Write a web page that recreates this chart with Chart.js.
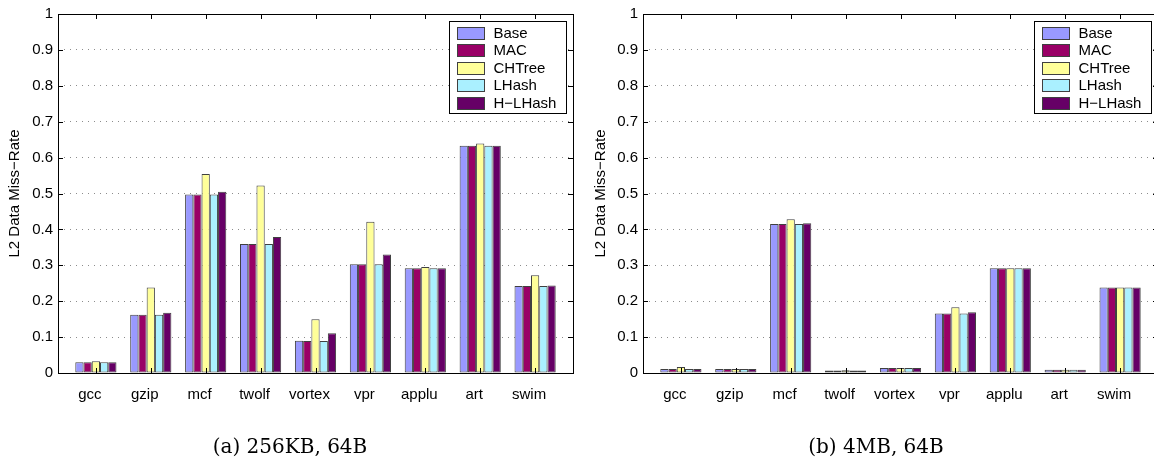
<!DOCTYPE html>
<html>
<head>
<meta charset="utf-8">
<script src="https://cdn.jsdelivr.net/npm/chart.js@4.4.0/dist/chart.umd.min.js"></script>
<style>
  html, body { margin: 0; padding: 0; background: #fff; overflow: hidden; }
  .panel { position: absolute; top: 0; height: 458px; }
  #panelA { left: 0; width: 580px; }
  #panelB { left: 580px; width: 592px; }
</style>
</head>
<body>
<div class="panel" id="panelA"><canvas id="chartA"></canvas></div>
<div class="panel" id="panelB"><canvas id="chartB"></canvas></div>
<script>
const benchmarks = ['gcc', 'gzip', 'mcf', 'twolf', 'vortex', 'vpr', 'applu', 'art', 'swim'];
const schemes = ['Base', 'MAC', 'CHTree', 'LHash', 'H\u2212LHash'];
const schemeColors = ['#9999ff', '#990066', '#ffff99', '#aaf0ff', '#660066'];
const yTicks = [0, 0.1, 0.2, 0.3, 0.4, 0.5, 0.6, 0.7, 0.8, 0.9, 1];

// (a) 256KB L2, 64B lines
const baseA   = [0.030, 0.162, 0.497, 0.359, 0.090, 0.303, 0.292, 0.633, 0.242];
const macA    = [0.030, 0.162, 0.497, 0.359, 0.089, 0.303, 0.292, 0.633, 0.242];
const chtreeA = [0.033, 0.238, 0.554, 0.522, 0.150, 0.421, 0.295, 0.639, 0.272];
const lhashA  = [0.030, 0.162, 0.497, 0.359, 0.089, 0.303, 0.292, 0.633, 0.242];
const hlhashA = [0.030, 0.168, 0.505, 0.379, 0.111, 0.330, 0.292, 0.633, 0.244];

// (b) 4MB L2, 64B lines
const baseB   = [0.011, 0.011, 0.415, 0.007, 0.014, 0.166, 0.292, 0.009, 0.238];
const macB    = [0.011, 0.011, 0.415, 0.007, 0.014, 0.166, 0.292, 0.009, 0.238];
const chtreeB = [0.017, 0.011, 0.428, 0.008, 0.014, 0.183, 0.292, 0.009, 0.238];
const lhashB  = [0.011, 0.011, 0.415, 0.007, 0.014, 0.166, 0.292, 0.009, 0.238];
const hlhashB = [0.011, 0.011, 0.417, 0.007, 0.014, 0.169, 0.292, 0.009, 0.238];

Chart.defaults.font.family = '"Liberation Sans", Arial, sans-serif';
Chart.defaults.font.size = 15;
Chart.defaults.color = '#000';

// box, inward ticks, legend and caption, matlab style
const matlabFrame = {
  id: 'matlabFrame',
  afterDraw(chart, args, opts) {
    const { ctx, chartArea: a } = chart;
    const xs = chart.scales.x, ys = chart.scales.y;
    ctx.save();
    ctx.strokeStyle = '#000';
    ctx.lineWidth = 1;
    ctx.strokeRect(Math.round(a.left) + 0.5, Math.round(a.top) + 0.5,
                   Math.round(a.right - a.left), Math.round(a.bottom - a.top));
    ctx.beginPath();
    yTicks.forEach(v => {
      const py = Math.round(ys.getPixelForValue(v)) + 0.5;
      ctx.moveTo(a.left, py); ctx.lineTo(a.left + 5, py);
      ctx.moveTo(a.right, py); ctx.lineTo(a.right - 5, py);
    });
    benchmarks.forEach((b, i) => {
      const px = Math.round(xs.getPixelForValue(i + 1)) + 0.5;
      ctx.moveTo(px, a.bottom); ctx.lineTo(px, a.bottom - 5);
      ctx.moveTo(px, a.top); ctx.lineTo(px, a.top + 5);
    });
    ctx.stroke();

    // legend
    const w = 117, h = 92;
    const lx = Math.round(a.right - 7 - w) + 0.5, ly = Math.round(a.top + 7) + 0.5;
    ctx.fillStyle = '#fff';
    ctx.fillRect(lx, ly, w, h);
    ctx.strokeRect(lx, ly, w, h);
    ctx.font = '15px "Liberation Sans", Arial, sans-serif';
    ctx.textBaseline = 'middle';
    ctx.textAlign = 'left';
    chart.data.datasets.forEach((ds, i) => {
      const sy = Math.round(ly + 5 + i * 17.6) + 0.5;
      ctx.fillStyle = ds.backgroundColor;
      ctx.fillRect(lx + 8, sy, 27, 12);
      ctx.strokeStyle = '#404040';
      ctx.strokeRect(lx + 8, sy, 27, 12);
      ctx.fillStyle = '#000';
      ctx.fillText(ds.label, lx + 44, sy + 6.5);
    });

    // caption
    ctx.font = '20px "DejaVu Serif", "Liberation Serif", serif';
    ctx.textAlign = 'center';
    ctx.fillText(opts.caption, chart.width / 2, 448);
    ctx.restore();
  }
};

function makeChart(id, series, caption, axisWidth, titlePad, rightPad) {
  const datasets = series.map((vals, s) => ({
    label: schemes[s],
    data: vals.map((v, i) => ({ x: i + 1, y: v })),
    backgroundColor: schemeColors[s],
    borderColor: '#404040',
    borderWidth: 1,
    borderSkipped: false,
    categoryPercentage: 0.75,
    barPercentage: 1.0
  }));
  return new Chart(document.getElementById(id), {
    type: 'bar',
    data: { datasets: datasets },
    plugins: [matlabFrame],
    options: {
      responsive: true,
      maintainAspectRatio: false,
      animation: false,
      layout: { padding: { left: 0, right: rightPad, top: 12, bottom: 0 } },
      plugins: {
        legend: { display: false },
        tooltip: { enabled: false },
        matlabFrame: { caption: caption }
      },
      scales: {
        x: {
          type: 'linear',
          offset: false,
          min: 0.31,
          max: 9.69,
          grid: { display: false },
          border: { display: false },
          afterBuildTicks: s => { s.ticks = benchmarks.map((b, i) => ({ value: i + 1 })); },
          afterFit: s => { s.height = 85; },
          ticks: {
            autoSkip: false,
            maxRotation: 0,
            padding: 5,
            labelOffset: -6,
            callback: v => benchmarks[v - 1]
          }
        },
        y: {
          min: 0,
          max: 1,
          afterBuildTicks: s => { s.ticks = yTicks.map(v => ({ value: v })); },
          afterFit: s => { s.width = axisWidth; },
          grid: {
            drawTicks: false,
            color: c => (c.tick && (c.tick.value === 0 || c.tick.value === 1)) ? 'rgba(0,0,0,0)' : '#8c8c8c'
          },
          border: { display: false, dash: [1, 5] },
          ticks: {
            padding: 5,
            callback: v => String(+v.toFixed(1))
          },
          title: {
            display: true,
            text: 'L2 Data Miss\u2212Rate',
            padding: { top: titlePad, bottom: 0 },
            font: { size: 15 }
          }
        }
      }
    }
  });
}

makeChart('chartA', [baseA, macA, chtreeA, lhashA, hlhashA], '(a) 256KB, 64B', 58, 6, 7);
makeChart('chartB', [baseB, macB, chtreeB, lhashB, hlhashB], '(b) 4MB, 64B', 63, 12, 14);
</script>
</body>
</html>
